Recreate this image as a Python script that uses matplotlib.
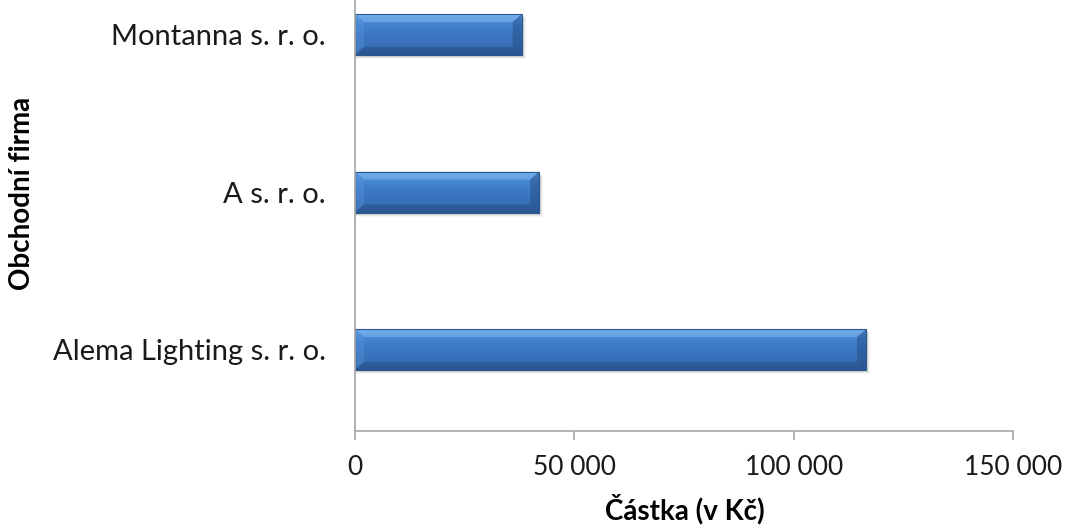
import matplotlib
matplotlib.use("Agg")
import matplotlib.pyplot as plt
import numpy as np
from matplotlib.patches import Rectangle, Polygon
from matplotlib.colors import LinearSegmentedColormap

categories = ["Alema Lighting s. r. o.", "A s. r. o.", "Montanna s. r. o."]
values = [116500, 42000, 38000]
xticks = [0, 50000, 100000, 150000]
xtick_labels = ["0", "50 000", "100 000", "150 000"]

plt.rcParams['font.family'] = ['Lato', 'DejaVu Sans']

W, H = 1067, 526
fig = plt.figure(figsize=(W / 100, H / 100), dpi=100)
ax_left, ax_right = 355 / W, 1013 / W
ax_bottom, ax_top = (H - 431) / H, 1.0
ax = fig.add_axes([ax_left, ax_bottom, ax_right - ax_left, ax_top - ax_bottom])

ypos = np.arange(len(categories))
bar_h = 0.26
ax.set_xlim(0, 150000)
ax.set_ylim(-0.517, 2.219)

cmap = LinearSegmentedColormap.from_list(
    "bev", ["#2f5e9e", "#3870b8", "#3b77c3", "#4484d0", "#62a0e4"])
grad = np.linspace(0, 1, 256).reshape(-1, 1)

px_x = 150000 / 658.0
px_y = (2.219 + 0.517) / 431.0
bev_x = 9 * px_x
bev_y = 8 * px_y

for y, v in zip(ypos, values):
    for k, a in enumerate([0.09, 0.06, 0.035]):
        sh = Rectangle((0, y - bar_h / 2 - (k + 2) * px_y), v + (k + 2) * px_x, bar_h,
                       facecolor="black", alpha=a, edgecolor="none", zorder=1)
        ax.add_patch(sh)
    rect = Rectangle((0, y - bar_h / 2), v, bar_h, facecolor="#3d78c4",
                     edgecolor="none", zorder=2)
    ax.add_patch(rect)
    im = ax.imshow(grad, cmap=cmap, aspect="auto", origin="lower",
                   extent=(0, v, y - bar_h / 2, y + bar_h / 2), zorder=2.5,
                   interpolation="bilinear")
    im.set_clip_path(rect)
    top = y + bar_h / 2
    bot = y - bar_h / 2
    ax.add_patch(Polygon([(0, top), (v, top), (v - bev_x, top - bev_y), (bev_x, top - bev_y)],
                         closed=True, facecolor="#86bdf4", alpha=0.45, edgecolor="none", zorder=3))
    ax.add_patch(Polygon([(0, bot), (v, bot), (v - bev_x, bot + bev_y), (bev_x, bot + bev_y)],
                         closed=True, facecolor="#1f4677", alpha=0.35, edgecolor="none", zorder=3))
    ax.add_patch(Polygon([(v, top), (v, bot), (v - bev_x, bot + bev_y), (v - bev_x, top - bev_y)],
                         closed=True, facecolor="#22497c", alpha=0.45, edgecolor="none", zorder=3))
    ax.add_patch(Polygon([(0, top), (0, bot), (bev_x, bot + bev_y), (bev_x, top - bev_y)],
                         closed=True, facecolor="#5a98dc", alpha=0.35, edgecolor="none", zorder=3))
    ax.add_patch(Rectangle((0, bot), v, bar_h, facecolor="none",
                           edgecolor="#2c568e", linewidth=0.8, zorder=3.5))

for s in ["top", "right"]:
    ax.spines[s].set_visible(False)
for s in ["left", "bottom"]:
    ax.spines[s].set_color("#a6a6a6")
    ax.spines[s].set_linewidth(1.2)
    ax.spines[s].set_zorder(4)

ax.set_xticks(xticks)
ax.set_xticklabels(xtick_labels, fontsize=19, color="#1a1a1a")
ax.tick_params(axis="x", length=6.5, width=1.2, color="#a6a6a6", direction="out", pad=11)
ax.set_yticks(ypos)
ax.set_yticklabels(categories, fontsize=21, color="#1a1a1a")
ax.tick_params(axis="y", length=0, pad=21)

fig.text(685 / W, 1 - 509 / H, "Částka (v Kč)", fontsize=20, fontweight="bold",
         ha="center", va="center")
fig.text(22 / W, 1 - 193 / H, "Obchodní firma", rotation=90, fontsize=20,
         fontweight="bold", ha="center", va="center")

fig.savefig("out.png", dpi=100)
